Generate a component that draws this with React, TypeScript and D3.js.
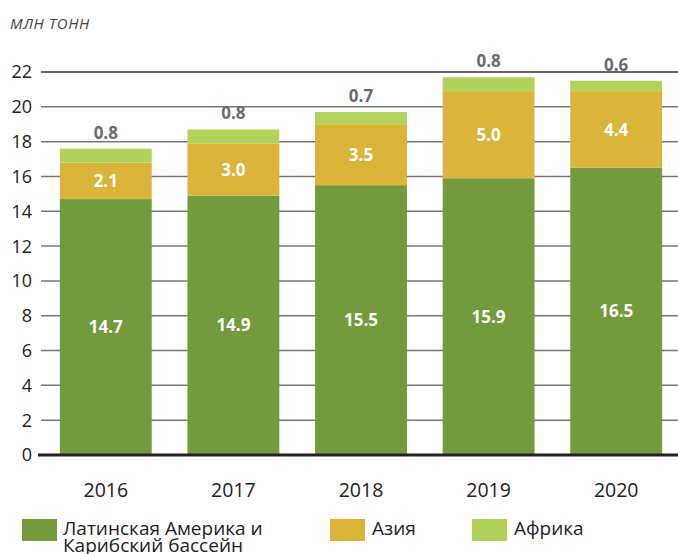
import React from "react";
import * as d3 from "d3";

const years = ["2016", "2017", "2018", "2019", "2020"];
const latam = [14.7, 14.9, 15.5, 15.9, 16.5];
const asia = [2.1, 3.0, 3.5, 5.0, 4.4];
const africa = [0.8, 0.8, 0.7, 0.8, 0.6];
const yTicks = [0, 2, 4, 6, 8, 10, 12, 14, 16, 18, 20, 22];
const seriesNames = ["Латинская Америка и Карибский бассейн", "Азия", "Африка"];
const colors = ["#739a3c", "#dab53a", "#b1d35c"];

const W = 678, H = 554;
const FONT = "'Open Sans', 'Noto Sans', sans-serif";

export default function App() {
  const x = d3.scaleBand<string>().domain(years).range([42, 680]).paddingInner(0.28).paddingOuter(0.14);
  const y = d3.scaleLinear().domain([0, 22]).range([455, 72]);
  const rows = years.map((yr, i) => ({ yr, latam: latam[i], asia: asia[i], africa: africa[i] }));
  const stack = d3.stack<any>().keys(["latam", "asia", "africa"])(rows);
  const bw = x.bandwidth();

  return (
    <svg width={W} height={H} style={{ position: "absolute", left: 0, top: 0, background: "#fff" }} fontFamily={FONT}>
      <text x={10} y={29} fontSize={15} fontStyle="italic" letterSpacing={0.6} fill="#444">МЛН ТОНН</text>
      {yTicks.map((t) => (
        <g key={t}>
          {t !== 0 && <line x1={41} x2={678} y1={y(t)} y2={y(t)} stroke={t === 22 ? "#333" : "#777"} strokeWidth={1.5} />}
          <text x={32} y={y(t)} dy="0.36em" textAnchor="end" fontSize={18} fill="#222">{t}</text>
        </g>
      ))}
      {stack.map((s, si) => (
        <g key={si}>
          {s.map((d, i) => (
            <rect key={i} x={x(years[i])} y={y(d[1])} width={bw} height={y(d[0]) - y(d[1])} fill={colors[si]} />
          ))}
        </g>
      ))}
      {stack.slice(0, 2).map((s, si) => (
        <g key={"l" + si}>
          {s.map((d, i) => (
            <text key={i} x={(x(years[i]) as number) + bw / 2} y={(y(d[0]) + y(d[1])) / 2} dy="0.36em" textAnchor="middle" fontSize={17} fontWeight="bold" fill="#fff">
              {(d[1] - d[0]).toFixed(1)}
            </text>
          ))}
        </g>
      ))}
      {stack[2].map((d, i) => (
        <text key={"t" + i} x={(x(years[i]) as number) + bw / 2} y={y(d[1]) - 10} textAnchor="middle" fontSize={17} fontWeight="bold" fill="#6b6b6b">
          {africa[i].toFixed(1)}
        </text>
      ))}
      <line x1={38} x2={678} y1={y(0)} y2={y(0)} stroke="#222" strokeWidth={3} />
      {years.map((yr) => (
        <text key={yr} x={(x(yr) as number) + bw / 2} y={497} textAnchor="middle" fontSize={19.5} fill="#222">{yr}</text>
      ))}
      <rect x={22} y={519} width={35} height={22} fill={colors[0]} />
      <text x={63} y={535} fontSize={19} fill="#222">
        <tspan x={63}>Латинская Америка и</tspan>
        <tspan x={63} dy={17}>Карибский бассейн</tspan>
      </text>
      <rect x={330} y={519} width={35} height={22} fill={colors[1]} />
      <text x={372} y={535} fontSize={19} fill="#222">{seriesNames[1]}</text>
      <rect x={472} y={519} width={35} height={22} fill={colors[2]} />
      <text x={514} y={535} fontSize={19} fill="#222">{seriesNames[2]}</text>
    </svg>
  );
}
